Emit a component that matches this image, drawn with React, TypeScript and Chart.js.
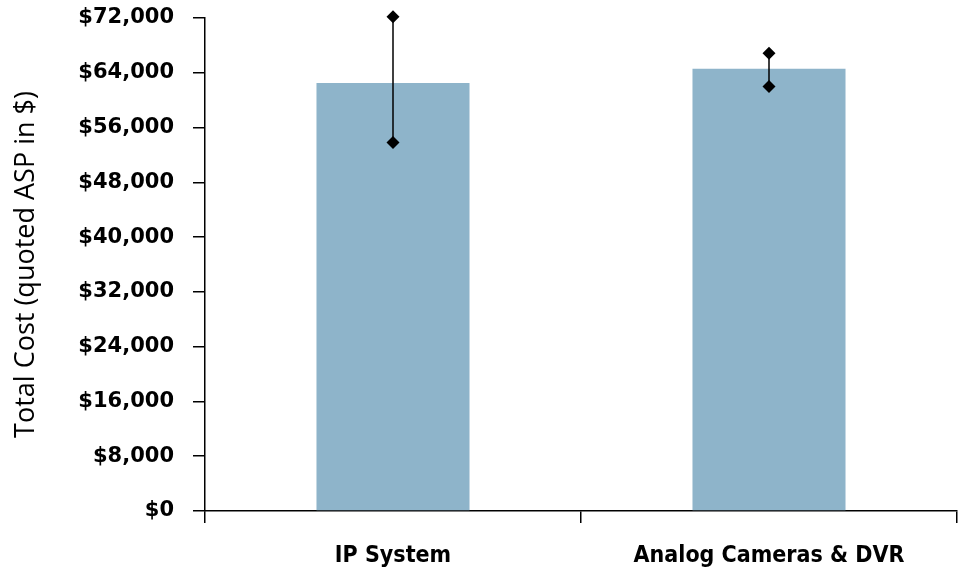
import React, { useEffect, useRef } from "react";
import { Chart, registerables } from "chart.js";

Chart.register(...registerables);

const categories = ["IP System", "Analog Cameras & DVR"];
const totalCost = [62500, 64600];
const costLow = [53800, 62000];
const costHigh = [72200, 66850];
const yTicks = [0, 8000, 16000, 24000, 32000, 40000, 48000, 56000, 64000, 72000];

const errorBarPlugin = {
  id: "errorBars",
  afterDatasetsDraw(chart: any) {
    const ctx = chart.ctx;
    const meta = chart.getDatasetMeta(0);
    const y = chart.scales.y;
    ctx.save();
    meta.data.forEach((bar: any, i: number) => {
      const x = bar.x;
      const yl = y.getPixelForValue(costLow[i]);
      const yh = y.getPixelForValue(costHigh[i]);
      ctx.strokeStyle = "#000";
      ctx.lineWidth = 1.5;
      ctx.beginPath();
      ctx.moveTo(x, yl);
      ctx.lineTo(x, yh);
      ctx.stroke();
      ctx.fillStyle = "#000";
      [yl, yh].forEach((py) => {
        const r = 6.5;
        ctx.beginPath();
        ctx.moveTo(x, py - r);
        ctx.lineTo(x + r, py);
        ctx.lineTo(x, py + r);
        ctx.lineTo(x - r, py);
        ctx.closePath();
        ctx.fill();
      });
    });
    ctx.restore();
  },
};

export default function App() {
  const ref = useRef<HTMLCanvasElement>(null);
  useEffect(() => {
    if (!ref.current) return;
    const chart = new Chart(ref.current, {
      type: "bar",
      data: {
        labels: categories,
        datasets: [
          {
            data: totalCost,
            backgroundColor: "#8EB4CA",
            barPercentage: 0.814,
            categoryPercentage: 0.5,
          },
        ],
      },
      plugins: [errorBarPlugin],
      options: {
        responsive: false,
        animation: false,
        devicePixelRatio: 1,
        layout: { padding: { top: 18, right: 2, left: 10, bottom: 0 } },
        plugins: { legend: { display: false }, tooltip: { enabled: false } },
        scales: {
          x: {
            offset: true,
            afterFit: (a: any) => {
              a.height = 64;
              a.paddingLeft = 0;
              a.paddingRight = 0;
            },
            grid: {
              offset: true,
              drawOnChartArea: false,
              drawTicks: true,
              tickLength: 12,
              color: "#000",
              lineWidth: 1.5,
            },
            border: { display: true, color: "#000", width: 1.5 },
            ticks: {
              color: "#000",
              padding: 19,
              font: { family: "'Liberation Sans Narrow', 'DejaVu Sans Condensed', sans-serif", size: 23, weight: "bold" },
            },
          },
          y: {
            min: 0,
            max: 72000,
            afterBuildTicks: (axis: any) => {
              axis.ticks = yTicks.map((v) => ({ value: v }));
            },
            afterFit: (a: any) => {
              a.width = 195;
              a.paddingTop = 0;
              a.paddingBottom = 0;
            },
            grid: {
              drawOnChartArea: false,
              drawTicks: true,
              tickLength: 12,
              color: "#000",
              lineWidth: 1.5,
            },
            border: { display: true, color: "#000", width: 1.5 },
            ticks: {
              color: "#000",
              padding: 19,
              font: { family: "'DejaVu Sans', sans-serif", size: 21, weight: "bold" },
              callback: (v: any) => "$" + Number(v).toLocaleString("en-US"),
            },
            title: {
              display: true,
              text: "Total Cost (quoted ASP in $)",
              color: "#000",
              padding: { top: 0, bottom: 0 },
              font: { family: "'Open Sans', sans-serif", size: 27 },
            },
          },
        },
      },
    });
    return () => chart.destroy();
  }, []);
  return (
    <div style={{ position: "fixed", left: 0, top: 0, width: 959, height: 575, background: "#fff" }}>
      <canvas ref={ref} width={959} height={575} />
    </div>
  );
}
